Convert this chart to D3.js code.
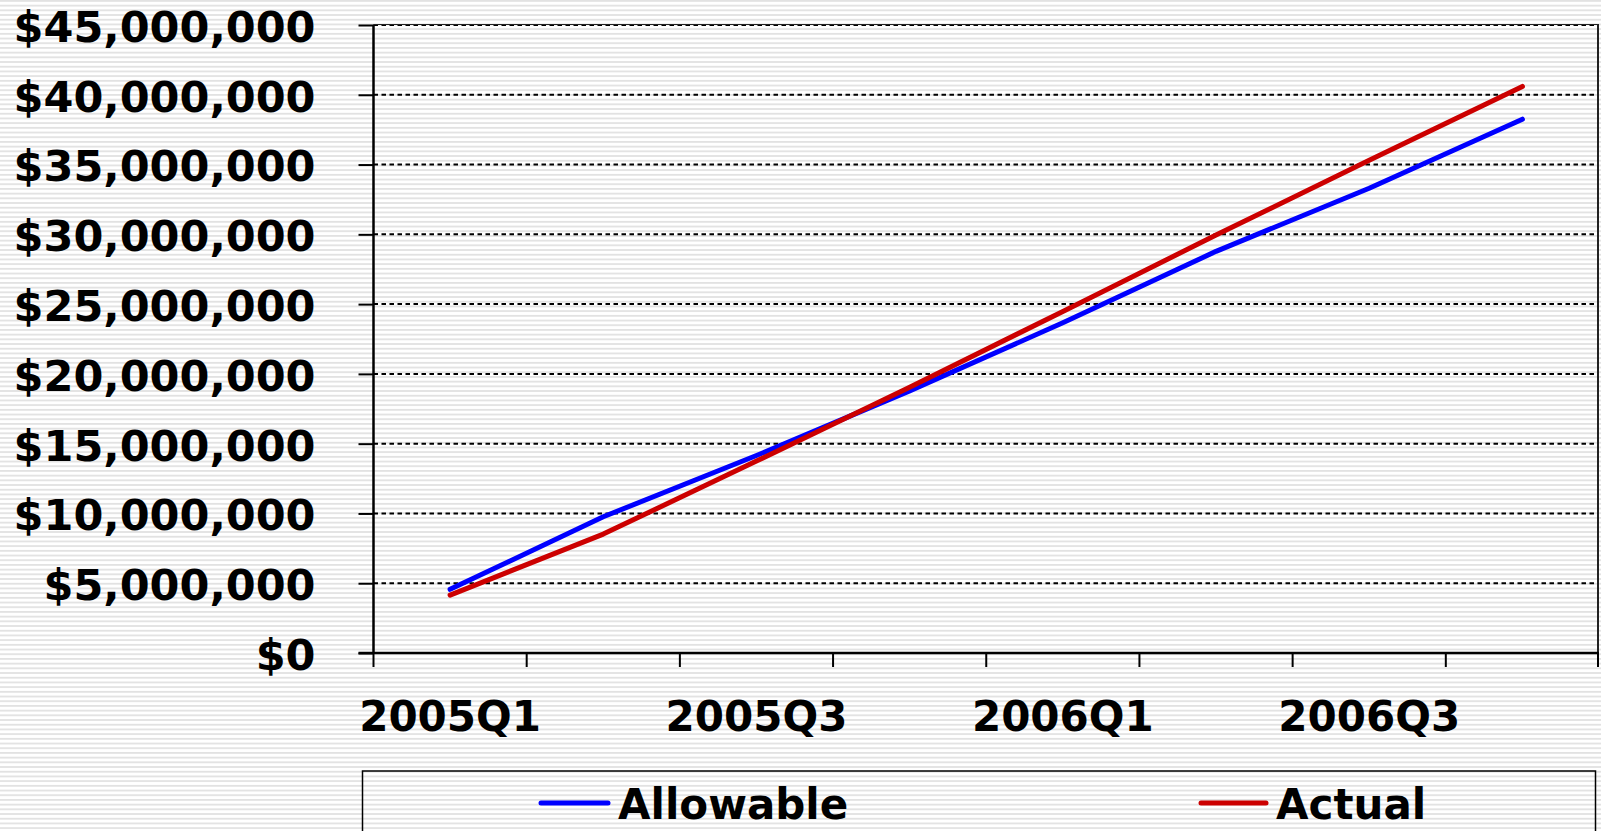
<!DOCTYPE html>
<html>
<head>
<meta charset="utf-8">
<script src="https://cdn.jsdelivr.net/npm/d3@7"></script>
<style>
  html, body { margin: 0; padding: 0; background: #fff; overflow: hidden; }
  svg { display: block; }
  text { font-family: "DejaVu Sans", Verdana, sans-serif; font-weight: bold; fill: #000; }
</style>
</head>
<body>
<script>
const categories = ["2005Q1", "2005Q2", "2005Q3", "2005Q4", "2006Q1", "2006Q2", "2006Q3", "2006Q4"];
const allowable = [4560000, 9760000, 14150000, 18780000, 23660000, 28780000, 33300000, 38250000];
const actual    = [4150000, 8520000, 13750000, 19050000, 24470000, 29950000, 35300000, 40600000];
const yTicks = [0, 5000000, 10000000, 15000000, 20000000, 25000000, 30000000, 35000000, 40000000, 45000000];
const xLabelCats = ["2005Q1", "2005Q3", "2006Q1", "2006Q3"];
const seriesNames = ["Allowable", "Actual"];
const seriesColors = ["#0000ff", "#cc0000"];

const W = 1601, H = 831;
const plot = { left: 373.5, right: 1599, top: 25, bottom: 653 };

const svg = d3.select("body").append("svg").attr("width", W).attr("height", H);

const defs = svg.append("defs");
const pat = defs.append("pattern").attr("id", "stripes")
  .attr("patternUnits", "userSpaceOnUse").attr("width", 10).attr("height", 4.7);
pat.append("rect").attr("width", 10).attr("height", 4.7).attr("fill", "#ffffff");
pat.append("rect").attr("y", 0).attr("width", 10).attr("height", 1.8).attr("fill", "#e2e2e2");

svg.append("rect").attr("width", W).attr("height", H).attr("fill", "url(#stripes)");

const x = d3.scaleBand().domain(categories).range([plot.left, plot.right]).paddingInner(0).paddingOuter(0);
const y = d3.scaleLinear().domain([0, 45000000]).range([plot.bottom, plot.top]);

// gridlines
svg.append("g").selectAll("line").data(yTicks.filter(d => d > 0)).join("line")
  .attr("x1", plot.left).attr("x2", plot.right)
  .attr("y1", d => y(d)).attr("y2", d => y(d))
  .attr("stroke", "#000").attr("stroke-width", 2).attr("stroke-dasharray", "4.5,3.5");

// top border and right border
svg.append("line").attr("x1", plot.left).attr("x2", plot.right).attr("y1", plot.top - 0.5).attr("y2", plot.top - 0.5)
  .attr("stroke", "#222").attr("stroke-width", 1.2);
svg.append("line").attr("x1", plot.right - 1).attr("x2", plot.right - 1).attr("y1", plot.top).attr("y2", plot.bottom)
  .attr("stroke", "#222").attr("stroke-width", 2);

// y axis
const yAxis = d3.axisLeft(y).tickValues(yTicks).tickSize(15).tickPadding(43)
  .tickFormat(d => "$" + d3.format(",")(d));
const gy = svg.append("g").attr("transform", `translate(${plot.left},0)`).call(yAxis);
gy.select(".domain").attr("stroke", "#000").attr("stroke-width", 2.5).attr("d", `M0,${plot.top}V${plot.bottom}`);
gy.selectAll(".tick line").attr("stroke", "#000").attr("stroke-width", 2);
gy.selectAll(".tick text").attr("font-size", 43).attr("font-family", "DejaVu Sans, sans-serif")
  .attr("font-weight", "bold").attr("fill", "#000").attr("dy", "0.38em");

// x axis line
svg.append("line").attr("x1", plot.left - 15).attr("x2", plot.right)
  .attr("y1", plot.bottom).attr("y2", plot.bottom)
  .attr("stroke", "#000").attr("stroke-width", 2.5);
// x ticks at band boundaries
const boundaries = categories.map(c => x(c)).concat([plot.right - 1]);
svg.append("g").selectAll("line").data(boundaries).join("line")
  .attr("x1", d => d).attr("x2", d => d)
  .attr("y1", plot.bottom).attr("y2", plot.bottom + 14)
  .attr("stroke", "#000").attr("stroke-width", 2);
// x labels
svg.append("g").selectAll("text").data(xLabelCats).join("text")
  .attr("x", d => x(d) + x.bandwidth() / 2)
  .attr("y", 731)
  .attr("text-anchor", "middle").attr("font-size", 42)
  .text(d => d);

// lines
const line = d3.line().x((d, i) => x(categories[i]) + x.bandwidth() / 2).y(d => y(d));
[allowable, actual].forEach((series, i) => {
  svg.append("path").datum(series)
    .attr("d", line)
    .attr("fill", "none")
    .attr("stroke", seriesColors[i])
    .attr("stroke-width", 5)
    .attr("stroke-linecap", "round")
    .attr("stroke-linejoin", "round");
});

// legend
const lg = svg.append("g");
lg.append("rect").attr("x", 362.5).attr("y", 771).attr("width", 1233).attr("height", 80)
  .attr("fill", "none").attr("stroke", "#000").attr("stroke-width", 1.5);
const legendItems = [
  { name: seriesNames[0], color: seriesColors[0], x1: 541, x2: 608, tx: 618 },
  { name: seriesNames[1], color: seriesColors[1], x1: 1201, x2: 1266, tx: 1276 }
];
legendItems.forEach(it => {
  lg.append("line").attr("x1", it.x1).attr("x2", it.x2).attr("y1", 803).attr("y2", 803)
    .attr("stroke", it.color).attr("stroke-width", 5).attr("stroke-linecap", "round");
  lg.append("text").attr("x", it.tx).attr("y", 819).attr("font-size", 42).text(it.name);
});
</script>
</body>
</html>
